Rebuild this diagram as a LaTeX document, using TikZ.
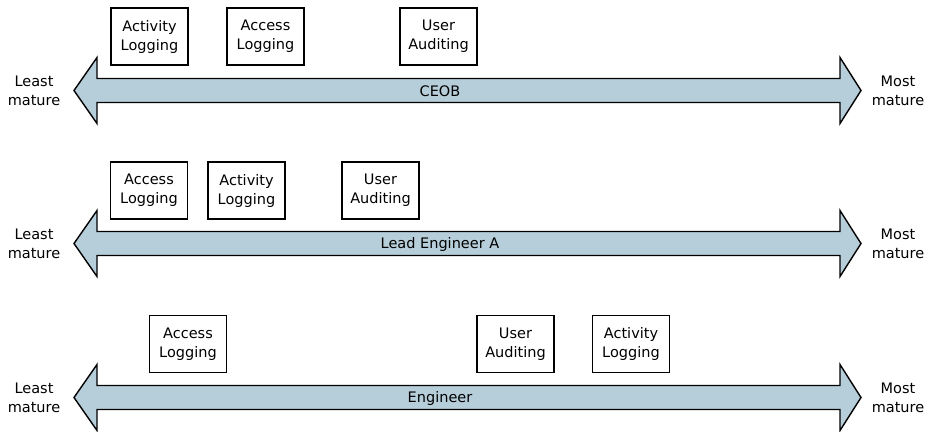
\documentclass[tikz,border=0pt]{standalone}
\usepackage{fontspec}
\setmainfont{DejaVu Sans}
\definecolor{bandfill}{RGB}{182,206,218}
\begin{document}
\begin{tikzpicture}[x=1pt,y=-1pt,
  every node/.style={font=\fontsize{14.5}{19}\selectfont, align=center, inner sep=0pt},
  stage/.style={draw=black, line width=1.3pt, fill=white, minimum width=77pt, minimum height=57pt},
  endlabel/.style={},
  band/.style={draw=black, line width=1.4pt, fill=bandfill, line join=miter}]
\useasboundingbox (0,0) rectangle (931,431);

% maturity bands (double-headed block arrows), one per role
\foreach \c/\lbl/\n in {90.5/CEOB/a, 243.5/Lead Engineer A/b, 397.5/Engineer/c}{
  \draw[band] (74,\c) -- (97,\c-33) -- (97,\c-12) -- (840,\c-12) -- (840,\c-33)
    -- (861,\c) -- (840,\c+33) -- (840,\c+12) -- (97,\c+12) -- (97,\c+33) -- cycle;
  \node (band\n) at (440,\c+1) {\lbl};
  \node[endlabel] (least\n) at (34,\c) {Least\\mature};
  \node[endlabel] (most\n) at (898,\c) {Most\\mature};
}

% row 1: CEOB
\node[stage] (a1) at (149.5,36.5) {Activity\\Logging};
\node[stage] (a2) at (265.5,36.5) {Access\\Logging};
\node[stage] (a3) at (438.5,36.5) {User\\Auditing};

% row 2: Lead Engineer A
\node[stage] (b1) at (149,190.5) {Access\\Logging};
\node[stage] (b2) at (246.5,190.5) {Activity\\Logging};
\node[stage] (b3) at (380.5,190.5) {User\\Auditing};

% row 3: Engineer
\node[stage] (c1) at (188,344) {Access\\Logging};
\node[stage] (c2) at (515.5,344) {User\\Auditing};
\node[stage] (c3) at (631,344) {Activity\\Logging};
\end{tikzpicture}
\end{document}
